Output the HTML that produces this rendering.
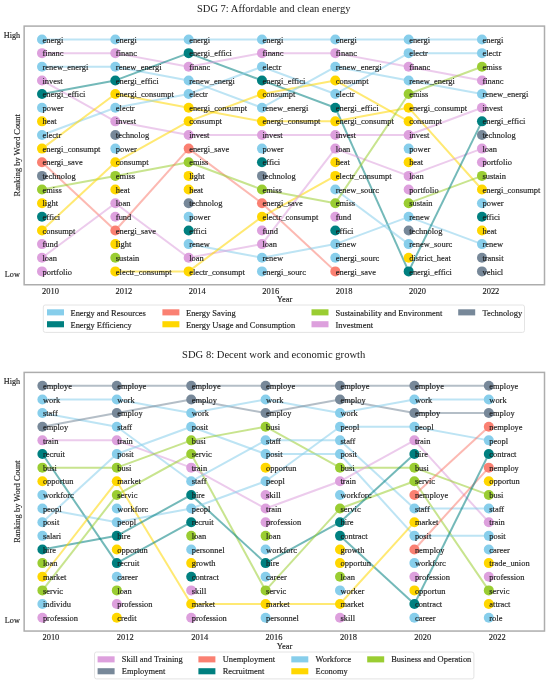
<!DOCTYPE html>
<html><head><meta charset="utf-8"><title>SDG ranking charts</title>
<style>
html,body{margin:0;padding:0;background:#fff;}
body{width:550px;height:683px;overflow:hidden;}
svg{display:block;filter:blur(0.25px);font-family:"Liberation Serif", serif;}
text{fill:#1a1a1a;stroke:#1a1a1a;stroke-width:0.14px;}
</style></head>
<body>
<svg width="550" height="683" viewBox="0 0 550 683">
<rect x="0" y="0" width="550" height="683" fill="#fff"/>
<text x="273.7" y="11.60" text-anchor="middle" font-size="10" style="stroke-width:0" textLength="153.5" lengthAdjust="spacingAndGlyphs">SDG 7: Affordable and clean energy</text>
<rect x="24.15" y="26.10" width="520.35" height="258.65" fill="none" stroke="#adadad" stroke-width="1.5"/>
<line x1="42.00" y1="39.50" x2="115.33" y2="39.50" stroke="#87CEEB" stroke-opacity="0.55" stroke-width="2.0"/>
<line x1="42.00" y1="53.14" x2="115.33" y2="53.14" stroke="#DDA0DD" stroke-opacity="0.55" stroke-width="2.0"/>
<line x1="42.00" y1="66.78" x2="115.33" y2="66.78" stroke="#87CEEB" stroke-opacity="0.55" stroke-width="2.0"/>
<line x1="42.00" y1="80.42" x2="115.33" y2="121.34" stroke="#DDA0DD" stroke-opacity="0.55" stroke-width="2.0"/>
<line x1="42.00" y1="94.06" x2="115.33" y2="80.42" stroke="#008080" stroke-opacity="0.55" stroke-width="2.0"/>
<line x1="42.00" y1="134.98" x2="115.33" y2="107.70" stroke="#87CEEB" stroke-opacity="0.55" stroke-width="2.0"/>
<line x1="42.00" y1="148.62" x2="115.33" y2="94.06" stroke="#FFD700" stroke-opacity="0.55" stroke-width="2.0"/>
<line x1="42.00" y1="162.26" x2="115.33" y2="230.46" stroke="#FA8072" stroke-opacity="0.55" stroke-width="2.0"/>
<line x1="42.00" y1="189.54" x2="115.33" y2="175.90" stroke="#9ACD32" stroke-opacity="0.55" stroke-width="2.0"/>
<line x1="42.00" y1="230.46" x2="115.33" y2="162.26" stroke="#FFD700" stroke-opacity="0.55" stroke-width="2.0"/>
<line x1="42.00" y1="257.74" x2="115.33" y2="203.18" stroke="#DDA0DD" stroke-opacity="0.55" stroke-width="2.0"/>
<line x1="115.33" y1="39.50" x2="188.66" y2="39.50" stroke="#87CEEB" stroke-opacity="0.55" stroke-width="2.0"/>
<line x1="115.33" y1="53.14" x2="188.66" y2="66.78" stroke="#DDA0DD" stroke-opacity="0.55" stroke-width="2.0"/>
<line x1="115.33" y1="66.78" x2="188.66" y2="80.42" stroke="#87CEEB" stroke-opacity="0.55" stroke-width="2.0"/>
<line x1="115.33" y1="80.42" x2="188.66" y2="53.14" stroke="#008080" stroke-opacity="0.55" stroke-width="2.0"/>
<line x1="115.33" y1="94.06" x2="188.66" y2="107.70" stroke="#FFD700" stroke-opacity="0.55" stroke-width="2.0"/>
<line x1="115.33" y1="107.70" x2="188.66" y2="94.06" stroke="#87CEEB" stroke-opacity="0.55" stroke-width="2.0"/>
<line x1="115.33" y1="121.34" x2="188.66" y2="134.98" stroke="#DDA0DD" stroke-opacity="0.55" stroke-width="2.0"/>
<line x1="115.33" y1="162.26" x2="188.66" y2="121.34" stroke="#FFD700" stroke-opacity="0.55" stroke-width="2.0"/>
<line x1="115.33" y1="175.90" x2="188.66" y2="162.26" stroke="#9ACD32" stroke-opacity="0.55" stroke-width="2.0"/>
<line x1="115.33" y1="203.18" x2="188.66" y2="257.74" stroke="#DDA0DD" stroke-opacity="0.55" stroke-width="2.0"/>
<line x1="115.33" y1="230.46" x2="188.66" y2="148.62" stroke="#FA8072" stroke-opacity="0.55" stroke-width="2.0"/>
<line x1="115.33" y1="271.38" x2="188.66" y2="271.38" stroke="#FFD700" stroke-opacity="0.55" stroke-width="2.0"/>
<line x1="188.66" y1="39.50" x2="261.99" y2="39.50" stroke="#87CEEB" stroke-opacity="0.55" stroke-width="2.0"/>
<line x1="188.66" y1="53.14" x2="261.99" y2="80.42" stroke="#008080" stroke-opacity="0.55" stroke-width="2.0"/>
<line x1="188.66" y1="66.78" x2="261.99" y2="53.14" stroke="#DDA0DD" stroke-opacity="0.55" stroke-width="2.0"/>
<line x1="188.66" y1="80.42" x2="261.99" y2="107.70" stroke="#87CEEB" stroke-opacity="0.55" stroke-width="2.0"/>
<line x1="188.66" y1="94.06" x2="261.99" y2="66.78" stroke="#87CEEB" stroke-opacity="0.55" stroke-width="2.0"/>
<line x1="188.66" y1="107.70" x2="261.99" y2="121.34" stroke="#FFD700" stroke-opacity="0.55" stroke-width="2.0"/>
<line x1="188.66" y1="121.34" x2="261.99" y2="94.06" stroke="#FFD700" stroke-opacity="0.55" stroke-width="2.0"/>
<line x1="188.66" y1="134.98" x2="261.99" y2="134.98" stroke="#DDA0DD" stroke-opacity="0.55" stroke-width="2.0"/>
<line x1="188.66" y1="148.62" x2="261.99" y2="203.18" stroke="#FA8072" stroke-opacity="0.55" stroke-width="2.0"/>
<line x1="188.66" y1="162.26" x2="261.99" y2="189.54" stroke="#9ACD32" stroke-opacity="0.55" stroke-width="2.0"/>
<line x1="188.66" y1="244.10" x2="261.99" y2="257.74" stroke="#87CEEB" stroke-opacity="0.55" stroke-width="2.0"/>
<line x1="188.66" y1="257.74" x2="261.99" y2="244.10" stroke="#DDA0DD" stroke-opacity="0.55" stroke-width="2.0"/>
<line x1="188.66" y1="271.38" x2="261.99" y2="216.82" stroke="#FFD700" stroke-opacity="0.55" stroke-width="2.0"/>
<line x1="261.99" y1="39.50" x2="335.32" y2="39.50" stroke="#87CEEB" stroke-opacity="0.55" stroke-width="2.0"/>
<line x1="261.99" y1="53.14" x2="335.32" y2="53.14" stroke="#DDA0DD" stroke-opacity="0.55" stroke-width="2.0"/>
<line x1="261.99" y1="66.78" x2="335.32" y2="94.06" stroke="#87CEEB" stroke-opacity="0.55" stroke-width="2.0"/>
<line x1="261.99" y1="80.42" x2="335.32" y2="107.70" stroke="#008080" stroke-opacity="0.55" stroke-width="2.0"/>
<line x1="261.99" y1="94.06" x2="335.32" y2="80.42" stroke="#FFD700" stroke-opacity="0.55" stroke-width="2.0"/>
<line x1="261.99" y1="107.70" x2="335.32" y2="66.78" stroke="#87CEEB" stroke-opacity="0.55" stroke-width="2.0"/>
<line x1="261.99" y1="121.34" x2="335.32" y2="121.34" stroke="#FFD700" stroke-opacity="0.55" stroke-width="2.0"/>
<line x1="261.99" y1="134.98" x2="335.32" y2="134.98" stroke="#DDA0DD" stroke-opacity="0.55" stroke-width="2.0"/>
<line x1="261.99" y1="189.54" x2="335.32" y2="203.18" stroke="#9ACD32" stroke-opacity="0.55" stroke-width="2.0"/>
<line x1="261.99" y1="203.18" x2="335.32" y2="271.38" stroke="#FA8072" stroke-opacity="0.55" stroke-width="2.0"/>
<line x1="261.99" y1="216.82" x2="335.32" y2="175.90" stroke="#FFD700" stroke-opacity="0.55" stroke-width="2.0"/>
<line x1="261.99" y1="244.10" x2="335.32" y2="148.62" stroke="#DDA0DD" stroke-opacity="0.55" stroke-width="2.0"/>
<line x1="261.99" y1="257.74" x2="335.32" y2="244.10" stroke="#87CEEB" stroke-opacity="0.55" stroke-width="2.0"/>
<line x1="335.32" y1="39.50" x2="408.65" y2="39.50" stroke="#87CEEB" stroke-opacity="0.55" stroke-width="2.0"/>
<line x1="335.32" y1="53.14" x2="408.65" y2="66.78" stroke="#DDA0DD" stroke-opacity="0.55" stroke-width="2.0"/>
<line x1="335.32" y1="66.78" x2="408.65" y2="80.42" stroke="#87CEEB" stroke-opacity="0.55" stroke-width="2.0"/>
<line x1="335.32" y1="80.42" x2="408.65" y2="121.34" stroke="#FFD700" stroke-opacity="0.55" stroke-width="2.0"/>
<line x1="335.32" y1="94.06" x2="408.65" y2="53.14" stroke="#87CEEB" stroke-opacity="0.55" stroke-width="2.0"/>
<line x1="335.32" y1="107.70" x2="408.65" y2="271.38" stroke="#008080" stroke-opacity="0.55" stroke-width="2.0"/>
<line x1="335.32" y1="121.34" x2="408.65" y2="107.70" stroke="#FFD700" stroke-opacity="0.55" stroke-width="2.0"/>
<line x1="335.32" y1="134.98" x2="408.65" y2="134.98" stroke="#DDA0DD" stroke-opacity="0.55" stroke-width="2.0"/>
<line x1="335.32" y1="148.62" x2="408.65" y2="175.90" stroke="#DDA0DD" stroke-opacity="0.55" stroke-width="2.0"/>
<line x1="335.32" y1="189.54" x2="408.65" y2="244.10" stroke="#87CEEB" stroke-opacity="0.55" stroke-width="2.0"/>
<line x1="335.32" y1="203.18" x2="408.65" y2="94.06" stroke="#9ACD32" stroke-opacity="0.55" stroke-width="2.0"/>
<line x1="335.32" y1="244.10" x2="408.65" y2="216.82" stroke="#87CEEB" stroke-opacity="0.55" stroke-width="2.0"/>
<line x1="408.65" y1="39.50" x2="481.98" y2="39.50" stroke="#87CEEB" stroke-opacity="0.55" stroke-width="2.0"/>
<line x1="408.65" y1="53.14" x2="481.98" y2="53.14" stroke="#87CEEB" stroke-opacity="0.55" stroke-width="2.0"/>
<line x1="408.65" y1="66.78" x2="481.98" y2="80.42" stroke="#DDA0DD" stroke-opacity="0.55" stroke-width="2.0"/>
<line x1="408.65" y1="80.42" x2="481.98" y2="94.06" stroke="#87CEEB" stroke-opacity="0.55" stroke-width="2.0"/>
<line x1="408.65" y1="94.06" x2="481.98" y2="66.78" stroke="#9ACD32" stroke-opacity="0.55" stroke-width="2.0"/>
<line x1="408.65" y1="107.70" x2="481.98" y2="189.54" stroke="#FFD700" stroke-opacity="0.55" stroke-width="2.0"/>
<line x1="408.65" y1="134.98" x2="481.98" y2="107.70" stroke="#DDA0DD" stroke-opacity="0.55" stroke-width="2.0"/>
<line x1="408.65" y1="175.90" x2="481.98" y2="148.62" stroke="#DDA0DD" stroke-opacity="0.55" stroke-width="2.0"/>
<line x1="408.65" y1="203.18" x2="481.98" y2="175.90" stroke="#9ACD32" stroke-opacity="0.55" stroke-width="2.0"/>
<line x1="408.65" y1="216.82" x2="481.98" y2="244.10" stroke="#87CEEB" stroke-opacity="0.55" stroke-width="2.0"/>
<line x1="408.65" y1="271.38" x2="481.98" y2="121.34" stroke="#008080" stroke-opacity="0.55" stroke-width="2.0"/>
<circle cx="42.00" cy="39.50" r="5.0" fill="#87CEEB"/>
<circle cx="42.00" cy="53.14" r="5.0" fill="#DDA0DD"/>
<circle cx="42.00" cy="66.78" r="5.0" fill="#87CEEB"/>
<circle cx="42.00" cy="80.42" r="5.0" fill="#DDA0DD"/>
<circle cx="42.00" cy="94.06" r="5.0" fill="#008080"/>
<circle cx="42.00" cy="107.70" r="5.0" fill="#87CEEB"/>
<circle cx="42.00" cy="121.34" r="5.0" fill="#FFD700"/>
<circle cx="42.00" cy="134.98" r="5.0" fill="#87CEEB"/>
<circle cx="42.00" cy="148.62" r="5.0" fill="#FFD700"/>
<circle cx="42.00" cy="162.26" r="5.0" fill="#FA8072"/>
<circle cx="42.00" cy="175.90" r="5.0" fill="#778899"/>
<circle cx="42.00" cy="189.54" r="5.0" fill="#9ACD32"/>
<circle cx="42.00" cy="203.18" r="5.0" fill="#FFD700"/>
<circle cx="42.00" cy="216.82" r="5.0" fill="#008080"/>
<circle cx="42.00" cy="230.46" r="5.0" fill="#FFD700"/>
<circle cx="42.00" cy="244.10" r="5.0" fill="#DDA0DD"/>
<circle cx="42.00" cy="257.74" r="5.0" fill="#DDA0DD"/>
<circle cx="42.00" cy="271.38" r="5.0" fill="#DDA0DD"/>
<circle cx="115.33" cy="39.50" r="5.0" fill="#87CEEB"/>
<circle cx="115.33" cy="53.14" r="5.0" fill="#DDA0DD"/>
<circle cx="115.33" cy="66.78" r="5.0" fill="#87CEEB"/>
<circle cx="115.33" cy="80.42" r="5.0" fill="#008080"/>
<circle cx="115.33" cy="94.06" r="5.0" fill="#FFD700"/>
<circle cx="115.33" cy="107.70" r="5.0" fill="#87CEEB"/>
<circle cx="115.33" cy="121.34" r="5.0" fill="#DDA0DD"/>
<circle cx="115.33" cy="134.98" r="5.0" fill="#778899"/>
<circle cx="115.33" cy="148.62" r="5.0" fill="#87CEEB"/>
<circle cx="115.33" cy="162.26" r="5.0" fill="#FFD700"/>
<circle cx="115.33" cy="175.90" r="5.0" fill="#9ACD32"/>
<circle cx="115.33" cy="189.54" r="5.0" fill="#FFD700"/>
<circle cx="115.33" cy="203.18" r="5.0" fill="#DDA0DD"/>
<circle cx="115.33" cy="216.82" r="5.0" fill="#DDA0DD"/>
<circle cx="115.33" cy="230.46" r="5.0" fill="#FA8072"/>
<circle cx="115.33" cy="244.10" r="5.0" fill="#FFD700"/>
<circle cx="115.33" cy="257.74" r="5.0" fill="#9ACD32"/>
<circle cx="115.33" cy="271.38" r="5.0" fill="#FFD700"/>
<circle cx="188.66" cy="39.50" r="5.0" fill="#87CEEB"/>
<circle cx="188.66" cy="53.14" r="5.0" fill="#008080"/>
<circle cx="188.66" cy="66.78" r="5.0" fill="#DDA0DD"/>
<circle cx="188.66" cy="80.42" r="5.0" fill="#87CEEB"/>
<circle cx="188.66" cy="94.06" r="5.0" fill="#87CEEB"/>
<circle cx="188.66" cy="107.70" r="5.0" fill="#FFD700"/>
<circle cx="188.66" cy="121.34" r="5.0" fill="#FFD700"/>
<circle cx="188.66" cy="134.98" r="5.0" fill="#DDA0DD"/>
<circle cx="188.66" cy="148.62" r="5.0" fill="#FA8072"/>
<circle cx="188.66" cy="162.26" r="5.0" fill="#9ACD32"/>
<circle cx="188.66" cy="175.90" r="5.0" fill="#FFD700"/>
<circle cx="188.66" cy="189.54" r="5.0" fill="#FFD700"/>
<circle cx="188.66" cy="203.18" r="5.0" fill="#778899"/>
<circle cx="188.66" cy="216.82" r="5.0" fill="#87CEEB"/>
<circle cx="188.66" cy="230.46" r="5.0" fill="#008080"/>
<circle cx="188.66" cy="244.10" r="5.0" fill="#87CEEB"/>
<circle cx="188.66" cy="257.74" r="5.0" fill="#DDA0DD"/>
<circle cx="188.66" cy="271.38" r="5.0" fill="#FFD700"/>
<circle cx="261.99" cy="39.50" r="5.0" fill="#87CEEB"/>
<circle cx="261.99" cy="53.14" r="5.0" fill="#DDA0DD"/>
<circle cx="261.99" cy="66.78" r="5.0" fill="#87CEEB"/>
<circle cx="261.99" cy="80.42" r="5.0" fill="#008080"/>
<circle cx="261.99" cy="94.06" r="5.0" fill="#FFD700"/>
<circle cx="261.99" cy="107.70" r="5.0" fill="#87CEEB"/>
<circle cx="261.99" cy="121.34" r="5.0" fill="#FFD700"/>
<circle cx="261.99" cy="134.98" r="5.0" fill="#DDA0DD"/>
<circle cx="261.99" cy="148.62" r="5.0" fill="#87CEEB"/>
<circle cx="261.99" cy="162.26" r="5.0" fill="#008080"/>
<circle cx="261.99" cy="175.90" r="5.0" fill="#778899"/>
<circle cx="261.99" cy="189.54" r="5.0" fill="#9ACD32"/>
<circle cx="261.99" cy="203.18" r="5.0" fill="#FA8072"/>
<circle cx="261.99" cy="216.82" r="5.0" fill="#FFD700"/>
<circle cx="261.99" cy="230.46" r="5.0" fill="#DDA0DD"/>
<circle cx="261.99" cy="244.10" r="5.0" fill="#DDA0DD"/>
<circle cx="261.99" cy="257.74" r="5.0" fill="#87CEEB"/>
<circle cx="261.99" cy="271.38" r="5.0" fill="#87CEEB"/>
<circle cx="335.32" cy="39.50" r="5.0" fill="#87CEEB"/>
<circle cx="335.32" cy="53.14" r="5.0" fill="#DDA0DD"/>
<circle cx="335.32" cy="66.78" r="5.0" fill="#87CEEB"/>
<circle cx="335.32" cy="80.42" r="5.0" fill="#FFD700"/>
<circle cx="335.32" cy="94.06" r="5.0" fill="#87CEEB"/>
<circle cx="335.32" cy="107.70" r="5.0" fill="#008080"/>
<circle cx="335.32" cy="121.34" r="5.0" fill="#FFD700"/>
<circle cx="335.32" cy="134.98" r="5.0" fill="#DDA0DD"/>
<circle cx="335.32" cy="148.62" r="5.0" fill="#DDA0DD"/>
<circle cx="335.32" cy="162.26" r="5.0" fill="#FFD700"/>
<circle cx="335.32" cy="175.90" r="5.0" fill="#FFD700"/>
<circle cx="335.32" cy="189.54" r="5.0" fill="#87CEEB"/>
<circle cx="335.32" cy="203.18" r="5.0" fill="#9ACD32"/>
<circle cx="335.32" cy="216.82" r="5.0" fill="#DDA0DD"/>
<circle cx="335.32" cy="230.46" r="5.0" fill="#008080"/>
<circle cx="335.32" cy="244.10" r="5.0" fill="#87CEEB"/>
<circle cx="335.32" cy="257.74" r="5.0" fill="#87CEEB"/>
<circle cx="335.32" cy="271.38" r="5.0" fill="#FA8072"/>
<circle cx="408.65" cy="39.50" r="5.0" fill="#87CEEB"/>
<circle cx="408.65" cy="53.14" r="5.0" fill="#87CEEB"/>
<circle cx="408.65" cy="66.78" r="5.0" fill="#DDA0DD"/>
<circle cx="408.65" cy="80.42" r="5.0" fill="#87CEEB"/>
<circle cx="408.65" cy="94.06" r="5.0" fill="#9ACD32"/>
<circle cx="408.65" cy="107.70" r="5.0" fill="#FFD700"/>
<circle cx="408.65" cy="121.34" r="5.0" fill="#FFD700"/>
<circle cx="408.65" cy="134.98" r="5.0" fill="#DDA0DD"/>
<circle cx="408.65" cy="148.62" r="5.0" fill="#87CEEB"/>
<circle cx="408.65" cy="162.26" r="5.0" fill="#FFD700"/>
<circle cx="408.65" cy="175.90" r="5.0" fill="#DDA0DD"/>
<circle cx="408.65" cy="189.54" r="5.0" fill="#DDA0DD"/>
<circle cx="408.65" cy="203.18" r="5.0" fill="#9ACD32"/>
<circle cx="408.65" cy="216.82" r="5.0" fill="#87CEEB"/>
<circle cx="408.65" cy="230.46" r="5.0" fill="#778899"/>
<circle cx="408.65" cy="244.10" r="5.0" fill="#87CEEB"/>
<circle cx="408.65" cy="257.74" r="5.0" fill="#FFD700"/>
<circle cx="408.65" cy="271.38" r="5.0" fill="#008080"/>
<circle cx="481.98" cy="39.50" r="5.0" fill="#87CEEB"/>
<circle cx="481.98" cy="53.14" r="5.0" fill="#87CEEB"/>
<circle cx="481.98" cy="66.78" r="5.0" fill="#9ACD32"/>
<circle cx="481.98" cy="80.42" r="5.0" fill="#DDA0DD"/>
<circle cx="481.98" cy="94.06" r="5.0" fill="#87CEEB"/>
<circle cx="481.98" cy="107.70" r="5.0" fill="#DDA0DD"/>
<circle cx="481.98" cy="121.34" r="5.0" fill="#008080"/>
<circle cx="481.98" cy="134.98" r="5.0" fill="#778899"/>
<circle cx="481.98" cy="148.62" r="5.0" fill="#DDA0DD"/>
<circle cx="481.98" cy="162.26" r="5.0" fill="#DDA0DD"/>
<circle cx="481.98" cy="175.90" r="5.0" fill="#9ACD32"/>
<circle cx="481.98" cy="189.54" r="5.0" fill="#FFD700"/>
<circle cx="481.98" cy="203.18" r="5.0" fill="#87CEEB"/>
<circle cx="481.98" cy="216.82" r="5.0" fill="#008080"/>
<circle cx="481.98" cy="230.46" r="5.0" fill="#FFD700"/>
<circle cx="481.98" cy="244.10" r="5.0" fill="#87CEEB"/>
<circle cx="481.98" cy="257.74" r="5.0" fill="#778899"/>
<circle cx="481.98" cy="271.38" r="5.0" fill="#778899"/>
<text x="42.50" y="42.65" font-size="8.45">energi</text>
<text x="42.50" y="56.29" font-size="8.45">financ</text>
<text x="42.50" y="69.93" font-size="8.45">renew_energi</text>
<text x="42.50" y="83.57" font-size="8.45">invest</text>
<text x="42.50" y="97.21" font-size="8.45">energi_effici</text>
<text x="42.50" y="110.85" font-size="8.45">power</text>
<text x="42.50" y="124.49" font-size="8.45">heat</text>
<text x="42.50" y="138.13" font-size="8.45">electr</text>
<text x="42.50" y="151.77" font-size="8.45">energi_consumpt</text>
<text x="42.50" y="165.41" font-size="8.45">energi_save</text>
<text x="42.50" y="179.05" font-size="8.45">technolog</text>
<text x="42.50" y="192.69" font-size="8.45">emiss</text>
<text x="42.50" y="206.33" font-size="8.45">light</text>
<text x="42.50" y="219.97" font-size="8.45">effici</text>
<text x="42.50" y="233.61" font-size="8.45">consumpt</text>
<text x="42.50" y="247.25" font-size="8.45">fund</text>
<text x="42.50" y="260.89" font-size="8.45">loan</text>
<text x="42.50" y="274.53" font-size="8.45">portfolio</text>
<text x="115.83" y="42.65" font-size="8.45">energi</text>
<text x="115.83" y="56.29" font-size="8.45">financ</text>
<text x="115.83" y="69.93" font-size="8.45">renew_energi</text>
<text x="115.83" y="83.57" font-size="8.45">energi_effici</text>
<text x="115.83" y="97.21" font-size="8.45">energi_consumpt</text>
<text x="115.83" y="110.85" font-size="8.45">electr</text>
<text x="115.83" y="124.49" font-size="8.45">invest</text>
<text x="115.83" y="138.13" font-size="8.45">technolog</text>
<text x="115.83" y="151.77" font-size="8.45">power</text>
<text x="115.83" y="165.41" font-size="8.45">consumpt</text>
<text x="115.83" y="179.05" font-size="8.45">emiss</text>
<text x="115.83" y="192.69" font-size="8.45">heat</text>
<text x="115.83" y="206.33" font-size="8.45">loan</text>
<text x="115.83" y="219.97" font-size="8.45">fund</text>
<text x="115.83" y="233.61" font-size="8.45">energi_save</text>
<text x="115.83" y="247.25" font-size="8.45">light</text>
<text x="115.83" y="260.89" font-size="8.45">sustain</text>
<text x="115.83" y="274.53" font-size="8.45">electr_consumpt</text>
<text x="189.16" y="42.65" font-size="8.45">energi</text>
<text x="189.16" y="56.29" font-size="8.45">energi_effici</text>
<text x="189.16" y="69.93" font-size="8.45">financ</text>
<text x="189.16" y="83.57" font-size="8.45">renew_energi</text>
<text x="189.16" y="97.21" font-size="8.45">electr</text>
<text x="189.16" y="110.85" font-size="8.45">energi_consumpt</text>
<text x="189.16" y="124.49" font-size="8.45">consumpt</text>
<text x="189.16" y="138.13" font-size="8.45">invest</text>
<text x="189.16" y="151.77" font-size="8.45">energi_save</text>
<text x="189.16" y="165.41" font-size="8.45">emiss</text>
<text x="189.16" y="179.05" font-size="8.45">light</text>
<text x="189.16" y="192.69" font-size="8.45">heat</text>
<text x="189.16" y="206.33" font-size="8.45">technolog</text>
<text x="189.16" y="219.97" font-size="8.45">power</text>
<text x="189.16" y="233.61" font-size="8.45">effici</text>
<text x="189.16" y="247.25" font-size="8.45">renew</text>
<text x="189.16" y="260.89" font-size="8.45">loan</text>
<text x="189.16" y="274.53" font-size="8.45">electr_consumpt</text>
<text x="262.49" y="42.65" font-size="8.45">energi</text>
<text x="262.49" y="56.29" font-size="8.45">financ</text>
<text x="262.49" y="69.93" font-size="8.45">electr</text>
<text x="262.49" y="83.57" font-size="8.45">energi_effici</text>
<text x="262.49" y="97.21" font-size="8.45">consumpt</text>
<text x="262.49" y="110.85" font-size="8.45">renew_energi</text>
<text x="262.49" y="124.49" font-size="8.45">energi_consumpt</text>
<text x="262.49" y="138.13" font-size="8.45">invest</text>
<text x="262.49" y="151.77" font-size="8.45">power</text>
<text x="262.49" y="165.41" font-size="8.45">effici</text>
<text x="262.49" y="179.05" font-size="8.45">technolog</text>
<text x="262.49" y="192.69" font-size="8.45">emiss</text>
<text x="262.49" y="206.33" font-size="8.45">energi_save</text>
<text x="262.49" y="219.97" font-size="8.45">electr_consumpt</text>
<text x="262.49" y="233.61" font-size="8.45">fund</text>
<text x="262.49" y="247.25" font-size="8.45">loan</text>
<text x="262.49" y="260.89" font-size="8.45">renew</text>
<text x="262.49" y="274.53" font-size="8.45">energi_sourc</text>
<text x="335.82" y="42.65" font-size="8.45">energi</text>
<text x="335.82" y="56.29" font-size="8.45">financ</text>
<text x="335.82" y="69.93" font-size="8.45">renew_energi</text>
<text x="335.82" y="83.57" font-size="8.45">consumpt</text>
<text x="335.82" y="97.21" font-size="8.45">electr</text>
<text x="335.82" y="110.85" font-size="8.45">energi_effici</text>
<text x="335.82" y="124.49" font-size="8.45">energi_consumpt</text>
<text x="335.82" y="138.13" font-size="8.45">invest</text>
<text x="335.82" y="151.77" font-size="8.45">loan</text>
<text x="335.82" y="165.41" font-size="8.45">heat</text>
<text x="335.82" y="179.05" font-size="8.45">electr_consumpt</text>
<text x="335.82" y="192.69" font-size="8.45">renew_sourc</text>
<text x="335.82" y="206.33" font-size="8.45">emiss</text>
<text x="335.82" y="219.97" font-size="8.45">fund</text>
<text x="335.82" y="233.61" font-size="8.45">effici</text>
<text x="335.82" y="247.25" font-size="8.45">renew</text>
<text x="335.82" y="260.89" font-size="8.45">energi_sourc</text>
<text x="335.82" y="274.53" font-size="8.45">energi_save</text>
<text x="409.15" y="42.65" font-size="8.45">energi</text>
<text x="409.15" y="56.29" font-size="8.45">electr</text>
<text x="409.15" y="69.93" font-size="8.45">financ</text>
<text x="409.15" y="83.57" font-size="8.45">renew_energi</text>
<text x="409.15" y="97.21" font-size="8.45">emiss</text>
<text x="409.15" y="110.85" font-size="8.45">energi_consumpt</text>
<text x="409.15" y="124.49" font-size="8.45">consumpt</text>
<text x="409.15" y="138.13" font-size="8.45">invest</text>
<text x="409.15" y="151.77" font-size="8.45">power</text>
<text x="409.15" y="165.41" font-size="8.45">heat</text>
<text x="409.15" y="179.05" font-size="8.45">loan</text>
<text x="409.15" y="192.69" font-size="8.45">portfolio</text>
<text x="409.15" y="206.33" font-size="8.45">sustain</text>
<text x="409.15" y="219.97" font-size="8.45">renew</text>
<text x="409.15" y="233.61" font-size="8.45">technolog</text>
<text x="409.15" y="247.25" font-size="8.45">renew_sourc</text>
<text x="409.15" y="260.89" font-size="8.45">district_heat</text>
<text x="409.15" y="274.53" font-size="8.45">energi_effici</text>
<text x="482.48" y="42.65" font-size="8.45">energi</text>
<text x="482.48" y="56.29" font-size="8.45">electr</text>
<text x="482.48" y="69.93" font-size="8.45">emiss</text>
<text x="482.48" y="83.57" font-size="8.45">financ</text>
<text x="482.48" y="97.21" font-size="8.45">renew_energi</text>
<text x="482.48" y="110.85" font-size="8.45">invest</text>
<text x="482.48" y="124.49" font-size="8.45">energi_effici</text>
<text x="482.48" y="138.13" font-size="8.45">technolog</text>
<text x="482.48" y="151.77" font-size="8.45">loan</text>
<text x="482.48" y="165.41" font-size="8.45">portfolio</text>
<text x="482.48" y="179.05" font-size="8.45">sustain</text>
<text x="482.48" y="192.69" font-size="8.45">energi_consumpt</text>
<text x="482.48" y="206.33" font-size="8.45">power</text>
<text x="482.48" y="219.97" font-size="8.45">effici</text>
<text x="482.48" y="233.61" font-size="8.45">heat</text>
<text x="482.48" y="247.25" font-size="8.45">renew</text>
<text x="482.48" y="260.89" font-size="8.45">transit</text>
<text x="482.48" y="274.53" font-size="8.45">vehicl</text>
<text x="50.50" y="293.50" text-anchor="middle" font-size="8.45">2010</text>
<text x="123.90" y="293.50" text-anchor="middle" font-size="8.45">2012</text>
<text x="197.30" y="293.50" text-anchor="middle" font-size="8.45">2014</text>
<text x="270.70" y="293.50" text-anchor="middle" font-size="8.45">2016</text>
<text x="344.10" y="293.50" text-anchor="middle" font-size="8.45">2018</text>
<text x="417.50" y="293.50" text-anchor="middle" font-size="8.45">2020</text>
<text x="490.90" y="293.50" text-anchor="middle" font-size="8.45">2022</text>
<text x="284.5" y="302.20" text-anchor="middle" font-size="8.45">Year</text>
<text x="20.1" y="38.00" text-anchor="end" font-size="8.2">High</text>
<text x="19.8" y="277.00" text-anchor="end" font-size="8.2">Low</text>
<text transform="translate(19.9 155.30) rotate(-90)" x="0" y="0" text-anchor="middle" font-size="8.45">Ranking by Word Count</text>
<rect x="43.3" y="305.00" width="481.20" height="27.40" rx="2" fill="#fff" stroke="#e4e4e4" stroke-width="1"/>
<rect x="47.0" y="309.30" width="17" height="6.1" fill="#87CEEB"/>
<text x="70.50" y="315.80" font-size="8.45">Energy and Resources</text>
<rect x="47.0" y="321.20" width="17" height="6.1" fill="#008080"/>
<text x="70.50" y="327.70" font-size="8.45">Energy Efficiency</text>
<rect x="162.4" y="309.30" width="17" height="6.1" fill="#FA8072"/>
<text x="186.00" y="315.80" font-size="8.45">Energy Saving</text>
<rect x="162.4" y="321.20" width="17" height="6.1" fill="#FFD700"/>
<text x="186.00" y="327.70" font-size="8.45">Energy Usage and Consumption</text>
<rect x="311.5" y="309.30" width="17" height="6.1" fill="#9ACD32"/>
<text x="335.50" y="315.80" font-size="8.45">Sustainability and Environment</text>
<rect x="311.5" y="321.20" width="17" height="6.1" fill="#DDA0DD"/>
<text x="335.50" y="327.70" font-size="8.45">Investment</text>
<rect x="458.2" y="309.30" width="17" height="6.1" fill="#778899"/>
<text x="482.40" y="315.80" font-size="8.45">Technology</text>
<text x="273.7" y="357.90" text-anchor="middle" font-size="10" style="stroke-width:0" textLength="183.2" lengthAdjust="spacingAndGlyphs">SDG 8: Decent work and economic growth</text>
<rect x="24.15" y="372.40" width="520.35" height="258.65" fill="none" stroke="#adadad" stroke-width="1.5"/>
<line x1="42.40" y1="385.80" x2="116.80" y2="385.80" stroke="#778899" stroke-opacity="0.55" stroke-width="2.0"/>
<line x1="42.40" y1="399.44" x2="116.80" y2="399.44" stroke="#87CEEB" stroke-opacity="0.55" stroke-width="2.0"/>
<line x1="42.40" y1="413.08" x2="116.80" y2="426.72" stroke="#87CEEB" stroke-opacity="0.55" stroke-width="2.0"/>
<line x1="42.40" y1="426.72" x2="116.80" y2="413.08" stroke="#778899" stroke-opacity="0.55" stroke-width="2.0"/>
<line x1="42.40" y1="440.36" x2="116.80" y2="440.36" stroke="#DDA0DD" stroke-opacity="0.55" stroke-width="2.0"/>
<line x1="42.40" y1="454.00" x2="116.80" y2="563.12" stroke="#008080" stroke-opacity="0.55" stroke-width="2.0"/>
<line x1="42.40" y1="467.64" x2="116.80" y2="467.64" stroke="#9ACD32" stroke-opacity="0.55" stroke-width="2.0"/>
<line x1="42.40" y1="508.56" x2="116.80" y2="522.20" stroke="#87CEEB" stroke-opacity="0.55" stroke-width="2.0"/>
<line x1="42.40" y1="522.20" x2="116.80" y2="454.00" stroke="#87CEEB" stroke-opacity="0.55" stroke-width="2.0"/>
<line x1="42.40" y1="549.48" x2="116.80" y2="535.84" stroke="#008080" stroke-opacity="0.55" stroke-width="2.0"/>
<line x1="42.40" y1="576.76" x2="116.80" y2="481.28" stroke="#FFD700" stroke-opacity="0.55" stroke-width="2.0"/>
<line x1="42.40" y1="590.40" x2="116.80" y2="494.92" stroke="#9ACD32" stroke-opacity="0.55" stroke-width="2.0"/>
<line x1="116.80" y1="385.80" x2="191.20" y2="385.80" stroke="#778899" stroke-opacity="0.55" stroke-width="2.0"/>
<line x1="116.80" y1="399.44" x2="191.20" y2="413.08" stroke="#87CEEB" stroke-opacity="0.55" stroke-width="2.0"/>
<line x1="116.80" y1="413.08" x2="191.20" y2="399.44" stroke="#778899" stroke-opacity="0.55" stroke-width="2.0"/>
<line x1="116.80" y1="426.72" x2="191.20" y2="481.28" stroke="#87CEEB" stroke-opacity="0.55" stroke-width="2.0"/>
<line x1="116.80" y1="440.36" x2="191.20" y2="467.64" stroke="#DDA0DD" stroke-opacity="0.55" stroke-width="2.0"/>
<line x1="116.80" y1="454.00" x2="191.20" y2="426.72" stroke="#87CEEB" stroke-opacity="0.55" stroke-width="2.0"/>
<line x1="116.80" y1="467.64" x2="191.20" y2="440.36" stroke="#9ACD32" stroke-opacity="0.55" stroke-width="2.0"/>
<line x1="116.80" y1="481.28" x2="191.20" y2="604.04" stroke="#FFD700" stroke-opacity="0.55" stroke-width="2.0"/>
<line x1="116.80" y1="494.92" x2="191.20" y2="454.00" stroke="#9ACD32" stroke-opacity="0.55" stroke-width="2.0"/>
<line x1="116.80" y1="522.20" x2="191.20" y2="508.56" stroke="#87CEEB" stroke-opacity="0.55" stroke-width="2.0"/>
<line x1="116.80" y1="535.84" x2="191.20" y2="494.92" stroke="#008080" stroke-opacity="0.55" stroke-width="2.0"/>
<line x1="116.80" y1="563.12" x2="191.20" y2="522.20" stroke="#008080" stroke-opacity="0.55" stroke-width="2.0"/>
<line x1="191.20" y1="385.80" x2="265.60" y2="385.80" stroke="#778899" stroke-opacity="0.55" stroke-width="2.0"/>
<line x1="191.20" y1="399.44" x2="265.60" y2="413.08" stroke="#778899" stroke-opacity="0.55" stroke-width="2.0"/>
<line x1="191.20" y1="413.08" x2="265.60" y2="399.44" stroke="#87CEEB" stroke-opacity="0.55" stroke-width="2.0"/>
<line x1="191.20" y1="426.72" x2="265.60" y2="454.00" stroke="#87CEEB" stroke-opacity="0.55" stroke-width="2.0"/>
<line x1="191.20" y1="440.36" x2="265.60" y2="426.72" stroke="#9ACD32" stroke-opacity="0.55" stroke-width="2.0"/>
<line x1="191.20" y1="454.00" x2="265.60" y2="590.40" stroke="#9ACD32" stroke-opacity="0.55" stroke-width="2.0"/>
<line x1="191.20" y1="467.64" x2="265.60" y2="508.56" stroke="#DDA0DD" stroke-opacity="0.55" stroke-width="2.0"/>
<line x1="191.20" y1="481.28" x2="265.60" y2="440.36" stroke="#87CEEB" stroke-opacity="0.55" stroke-width="2.0"/>
<line x1="191.20" y1="494.92" x2="265.60" y2="563.12" stroke="#008080" stroke-opacity="0.55" stroke-width="2.0"/>
<line x1="191.20" y1="508.56" x2="265.60" y2="481.28" stroke="#87CEEB" stroke-opacity="0.55" stroke-width="2.0"/>
<line x1="191.20" y1="604.04" x2="265.60" y2="604.04" stroke="#FFD700" stroke-opacity="0.55" stroke-width="2.0"/>
<line x1="265.60" y1="385.80" x2="340.00" y2="385.80" stroke="#778899" stroke-opacity="0.55" stroke-width="2.0"/>
<line x1="265.60" y1="399.44" x2="340.00" y2="413.08" stroke="#87CEEB" stroke-opacity="0.55" stroke-width="2.0"/>
<line x1="265.60" y1="413.08" x2="340.00" y2="399.44" stroke="#778899" stroke-opacity="0.55" stroke-width="2.0"/>
<line x1="265.60" y1="426.72" x2="340.00" y2="467.64" stroke="#9ACD32" stroke-opacity="0.55" stroke-width="2.0"/>
<line x1="265.60" y1="440.36" x2="340.00" y2="440.36" stroke="#87CEEB" stroke-opacity="0.55" stroke-width="2.0"/>
<line x1="265.60" y1="454.00" x2="340.00" y2="454.00" stroke="#87CEEB" stroke-opacity="0.55" stroke-width="2.0"/>
<line x1="265.60" y1="481.28" x2="340.00" y2="426.72" stroke="#87CEEB" stroke-opacity="0.55" stroke-width="2.0"/>
<line x1="265.60" y1="508.56" x2="340.00" y2="481.28" stroke="#DDA0DD" stroke-opacity="0.55" stroke-width="2.0"/>
<line x1="265.60" y1="563.12" x2="340.00" y2="522.20" stroke="#008080" stroke-opacity="0.55" stroke-width="2.0"/>
<line x1="265.60" y1="590.40" x2="340.00" y2="508.56" stroke="#9ACD32" stroke-opacity="0.55" stroke-width="2.0"/>
<line x1="265.60" y1="604.04" x2="340.00" y2="604.04" stroke="#FFD700" stroke-opacity="0.55" stroke-width="2.0"/>
<line x1="340.00" y1="385.80" x2="414.40" y2="385.80" stroke="#778899" stroke-opacity="0.55" stroke-width="2.0"/>
<line x1="340.00" y1="399.44" x2="414.40" y2="413.08" stroke="#778899" stroke-opacity="0.55" stroke-width="2.0"/>
<line x1="340.00" y1="413.08" x2="414.40" y2="399.44" stroke="#87CEEB" stroke-opacity="0.55" stroke-width="2.0"/>
<line x1="340.00" y1="426.72" x2="414.40" y2="426.72" stroke="#87CEEB" stroke-opacity="0.55" stroke-width="2.0"/>
<line x1="340.00" y1="440.36" x2="414.40" y2="508.56" stroke="#87CEEB" stroke-opacity="0.55" stroke-width="2.0"/>
<line x1="340.00" y1="454.00" x2="414.40" y2="535.84" stroke="#87CEEB" stroke-opacity="0.55" stroke-width="2.0"/>
<line x1="340.00" y1="467.64" x2="414.40" y2="467.64" stroke="#9ACD32" stroke-opacity="0.55" stroke-width="2.0"/>
<line x1="340.00" y1="481.28" x2="414.40" y2="440.36" stroke="#DDA0DD" stroke-opacity="0.55" stroke-width="2.0"/>
<line x1="340.00" y1="508.56" x2="414.40" y2="481.28" stroke="#9ACD32" stroke-opacity="0.55" stroke-width="2.0"/>
<line x1="340.00" y1="522.20" x2="414.40" y2="454.00" stroke="#008080" stroke-opacity="0.55" stroke-width="2.0"/>
<line x1="340.00" y1="535.84" x2="414.40" y2="604.04" stroke="#008080" stroke-opacity="0.55" stroke-width="2.0"/>
<line x1="340.00" y1="604.04" x2="414.40" y2="522.20" stroke="#FFD700" stroke-opacity="0.55" stroke-width="2.0"/>
<line x1="414.40" y1="385.80" x2="488.80" y2="385.80" stroke="#778899" stroke-opacity="0.55" stroke-width="2.0"/>
<line x1="414.40" y1="399.44" x2="488.80" y2="399.44" stroke="#87CEEB" stroke-opacity="0.55" stroke-width="2.0"/>
<line x1="414.40" y1="413.08" x2="488.80" y2="413.08" stroke="#778899" stroke-opacity="0.55" stroke-width="2.0"/>
<line x1="414.40" y1="426.72" x2="488.80" y2="440.36" stroke="#87CEEB" stroke-opacity="0.55" stroke-width="2.0"/>
<line x1="414.40" y1="440.36" x2="488.80" y2="522.20" stroke="#DDA0DD" stroke-opacity="0.55" stroke-width="2.0"/>
<line x1="414.40" y1="467.64" x2="488.80" y2="494.92" stroke="#9ACD32" stroke-opacity="0.55" stroke-width="2.0"/>
<line x1="414.40" y1="481.28" x2="488.80" y2="590.40" stroke="#9ACD32" stroke-opacity="0.55" stroke-width="2.0"/>
<line x1="414.40" y1="494.92" x2="488.80" y2="426.72" stroke="#FA8072" stroke-opacity="0.55" stroke-width="2.0"/>
<line x1="414.40" y1="508.56" x2="488.80" y2="508.56" stroke="#87CEEB" stroke-opacity="0.55" stroke-width="2.0"/>
<line x1="414.40" y1="535.84" x2="488.80" y2="535.84" stroke="#87CEEB" stroke-opacity="0.55" stroke-width="2.0"/>
<line x1="414.40" y1="549.48" x2="488.80" y2="467.64" stroke="#FA8072" stroke-opacity="0.55" stroke-width="2.0"/>
<line x1="414.40" y1="604.04" x2="488.80" y2="454.00" stroke="#008080" stroke-opacity="0.55" stroke-width="2.0"/>
<circle cx="42.40" cy="385.80" r="5.0" fill="#778899"/>
<circle cx="42.40" cy="399.44" r="5.0" fill="#87CEEB"/>
<circle cx="42.40" cy="413.08" r="5.0" fill="#87CEEB"/>
<circle cx="42.40" cy="426.72" r="5.0" fill="#778899"/>
<circle cx="42.40" cy="440.36" r="5.0" fill="#DDA0DD"/>
<circle cx="42.40" cy="454.00" r="5.0" fill="#008080"/>
<circle cx="42.40" cy="467.64" r="5.0" fill="#9ACD32"/>
<circle cx="42.40" cy="481.28" r="5.0" fill="#FFD700"/>
<circle cx="42.40" cy="494.92" r="5.0" fill="#87CEEB"/>
<circle cx="42.40" cy="508.56" r="5.0" fill="#87CEEB"/>
<circle cx="42.40" cy="522.20" r="5.0" fill="#87CEEB"/>
<circle cx="42.40" cy="535.84" r="5.0" fill="#87CEEB"/>
<circle cx="42.40" cy="549.48" r="5.0" fill="#008080"/>
<circle cx="42.40" cy="563.12" r="5.0" fill="#9ACD32"/>
<circle cx="42.40" cy="576.76" r="5.0" fill="#FFD700"/>
<circle cx="42.40" cy="590.40" r="5.0" fill="#9ACD32"/>
<circle cx="42.40" cy="604.04" r="5.0" fill="#87CEEB"/>
<circle cx="42.40" cy="617.68" r="5.0" fill="#DDA0DD"/>
<circle cx="116.80" cy="385.80" r="5.0" fill="#778899"/>
<circle cx="116.80" cy="399.44" r="5.0" fill="#87CEEB"/>
<circle cx="116.80" cy="413.08" r="5.0" fill="#778899"/>
<circle cx="116.80" cy="426.72" r="5.0" fill="#87CEEB"/>
<circle cx="116.80" cy="440.36" r="5.0" fill="#DDA0DD"/>
<circle cx="116.80" cy="454.00" r="5.0" fill="#87CEEB"/>
<circle cx="116.80" cy="467.64" r="5.0" fill="#9ACD32"/>
<circle cx="116.80" cy="481.28" r="5.0" fill="#FFD700"/>
<circle cx="116.80" cy="494.92" r="5.0" fill="#9ACD32"/>
<circle cx="116.80" cy="508.56" r="5.0" fill="#87CEEB"/>
<circle cx="116.80" cy="522.20" r="5.0" fill="#87CEEB"/>
<circle cx="116.80" cy="535.84" r="5.0" fill="#008080"/>
<circle cx="116.80" cy="549.48" r="5.0" fill="#FFD700"/>
<circle cx="116.80" cy="563.12" r="5.0" fill="#008080"/>
<circle cx="116.80" cy="576.76" r="5.0" fill="#87CEEB"/>
<circle cx="116.80" cy="590.40" r="5.0" fill="#9ACD32"/>
<circle cx="116.80" cy="604.04" r="5.0" fill="#DDA0DD"/>
<circle cx="116.80" cy="617.68" r="5.0" fill="#FFD700"/>
<circle cx="191.20" cy="385.80" r="5.0" fill="#778899"/>
<circle cx="191.20" cy="399.44" r="5.0" fill="#778899"/>
<circle cx="191.20" cy="413.08" r="5.0" fill="#87CEEB"/>
<circle cx="191.20" cy="426.72" r="5.0" fill="#87CEEB"/>
<circle cx="191.20" cy="440.36" r="5.0" fill="#9ACD32"/>
<circle cx="191.20" cy="454.00" r="5.0" fill="#9ACD32"/>
<circle cx="191.20" cy="467.64" r="5.0" fill="#DDA0DD"/>
<circle cx="191.20" cy="481.28" r="5.0" fill="#87CEEB"/>
<circle cx="191.20" cy="494.92" r="5.0" fill="#008080"/>
<circle cx="191.20" cy="508.56" r="5.0" fill="#87CEEB"/>
<circle cx="191.20" cy="522.20" r="5.0" fill="#008080"/>
<circle cx="191.20" cy="535.84" r="5.0" fill="#9ACD32"/>
<circle cx="191.20" cy="549.48" r="5.0" fill="#87CEEB"/>
<circle cx="191.20" cy="563.12" r="5.0" fill="#FFD700"/>
<circle cx="191.20" cy="576.76" r="5.0" fill="#008080"/>
<circle cx="191.20" cy="590.40" r="5.0" fill="#DDA0DD"/>
<circle cx="191.20" cy="604.04" r="5.0" fill="#FFD700"/>
<circle cx="191.20" cy="617.68" r="5.0" fill="#DDA0DD"/>
<circle cx="265.60" cy="385.80" r="5.0" fill="#778899"/>
<circle cx="265.60" cy="399.44" r="5.0" fill="#87CEEB"/>
<circle cx="265.60" cy="413.08" r="5.0" fill="#778899"/>
<circle cx="265.60" cy="426.72" r="5.0" fill="#9ACD32"/>
<circle cx="265.60" cy="440.36" r="5.0" fill="#87CEEB"/>
<circle cx="265.60" cy="454.00" r="5.0" fill="#87CEEB"/>
<circle cx="265.60" cy="467.64" r="5.0" fill="#FFD700"/>
<circle cx="265.60" cy="481.28" r="5.0" fill="#87CEEB"/>
<circle cx="265.60" cy="494.92" r="5.0" fill="#DDA0DD"/>
<circle cx="265.60" cy="508.56" r="5.0" fill="#DDA0DD"/>
<circle cx="265.60" cy="522.20" r="5.0" fill="#DDA0DD"/>
<circle cx="265.60" cy="535.84" r="5.0" fill="#9ACD32"/>
<circle cx="265.60" cy="549.48" r="5.0" fill="#87CEEB"/>
<circle cx="265.60" cy="563.12" r="5.0" fill="#008080"/>
<circle cx="265.60" cy="576.76" r="5.0" fill="#87CEEB"/>
<circle cx="265.60" cy="590.40" r="5.0" fill="#9ACD32"/>
<circle cx="265.60" cy="604.04" r="5.0" fill="#FFD700"/>
<circle cx="265.60" cy="617.68" r="5.0" fill="#87CEEB"/>
<circle cx="340.00" cy="385.80" r="5.0" fill="#778899"/>
<circle cx="340.00" cy="399.44" r="5.0" fill="#778899"/>
<circle cx="340.00" cy="413.08" r="5.0" fill="#87CEEB"/>
<circle cx="340.00" cy="426.72" r="5.0" fill="#87CEEB"/>
<circle cx="340.00" cy="440.36" r="5.0" fill="#87CEEB"/>
<circle cx="340.00" cy="454.00" r="5.0" fill="#87CEEB"/>
<circle cx="340.00" cy="467.64" r="5.0" fill="#9ACD32"/>
<circle cx="340.00" cy="481.28" r="5.0" fill="#DDA0DD"/>
<circle cx="340.00" cy="494.92" r="5.0" fill="#87CEEB"/>
<circle cx="340.00" cy="508.56" r="5.0" fill="#9ACD32"/>
<circle cx="340.00" cy="522.20" r="5.0" fill="#008080"/>
<circle cx="340.00" cy="535.84" r="5.0" fill="#008080"/>
<circle cx="340.00" cy="549.48" r="5.0" fill="#FFD700"/>
<circle cx="340.00" cy="563.12" r="5.0" fill="#FFD700"/>
<circle cx="340.00" cy="576.76" r="5.0" fill="#9ACD32"/>
<circle cx="340.00" cy="590.40" r="5.0" fill="#87CEEB"/>
<circle cx="340.00" cy="604.04" r="5.0" fill="#FFD700"/>
<circle cx="340.00" cy="617.68" r="5.0" fill="#DDA0DD"/>
<circle cx="414.40" cy="385.80" r="5.0" fill="#778899"/>
<circle cx="414.40" cy="399.44" r="5.0" fill="#87CEEB"/>
<circle cx="414.40" cy="413.08" r="5.0" fill="#778899"/>
<circle cx="414.40" cy="426.72" r="5.0" fill="#87CEEB"/>
<circle cx="414.40" cy="440.36" r="5.0" fill="#DDA0DD"/>
<circle cx="414.40" cy="454.00" r="5.0" fill="#008080"/>
<circle cx="414.40" cy="467.64" r="5.0" fill="#9ACD32"/>
<circle cx="414.40" cy="481.28" r="5.0" fill="#9ACD32"/>
<circle cx="414.40" cy="494.92" r="5.0" fill="#FA8072"/>
<circle cx="414.40" cy="508.56" r="5.0" fill="#87CEEB"/>
<circle cx="414.40" cy="522.20" r="5.0" fill="#FFD700"/>
<circle cx="414.40" cy="535.84" r="5.0" fill="#87CEEB"/>
<circle cx="414.40" cy="549.48" r="5.0" fill="#FA8072"/>
<circle cx="414.40" cy="563.12" r="5.0" fill="#87CEEB"/>
<circle cx="414.40" cy="576.76" r="5.0" fill="#DDA0DD"/>
<circle cx="414.40" cy="590.40" r="5.0" fill="#FFD700"/>
<circle cx="414.40" cy="604.04" r="5.0" fill="#008080"/>
<circle cx="414.40" cy="617.68" r="5.0" fill="#87CEEB"/>
<circle cx="488.80" cy="385.80" r="5.0" fill="#778899"/>
<circle cx="488.80" cy="399.44" r="5.0" fill="#87CEEB"/>
<circle cx="488.80" cy="413.08" r="5.0" fill="#778899"/>
<circle cx="488.80" cy="426.72" r="5.0" fill="#FA8072"/>
<circle cx="488.80" cy="440.36" r="5.0" fill="#87CEEB"/>
<circle cx="488.80" cy="454.00" r="5.0" fill="#008080"/>
<circle cx="488.80" cy="467.64" r="5.0" fill="#FA8072"/>
<circle cx="488.80" cy="481.28" r="5.0" fill="#FFD700"/>
<circle cx="488.80" cy="494.92" r="5.0" fill="#9ACD32"/>
<circle cx="488.80" cy="508.56" r="5.0" fill="#87CEEB"/>
<circle cx="488.80" cy="522.20" r="5.0" fill="#DDA0DD"/>
<circle cx="488.80" cy="535.84" r="5.0" fill="#87CEEB"/>
<circle cx="488.80" cy="549.48" r="5.0" fill="#87CEEB"/>
<circle cx="488.80" cy="563.12" r="5.0" fill="#FFD700"/>
<circle cx="488.80" cy="576.76" r="5.0" fill="#DDA0DD"/>
<circle cx="488.80" cy="590.40" r="5.0" fill="#9ACD32"/>
<circle cx="488.80" cy="604.04" r="5.0" fill="#FFD700"/>
<circle cx="488.80" cy="617.68" r="5.0" fill="#87CEEB"/>
<text x="42.90" y="388.95" font-size="8.45">employe</text>
<text x="42.90" y="402.59" font-size="8.45">work</text>
<text x="42.90" y="416.23" font-size="8.45">staff</text>
<text x="42.90" y="429.87" font-size="8.45">employ</text>
<text x="42.90" y="443.51" font-size="8.45">train</text>
<text x="42.90" y="457.15" font-size="8.45">recruit</text>
<text x="42.90" y="470.79" font-size="8.45">busi</text>
<text x="42.90" y="484.43" font-size="8.45">opportun</text>
<text x="42.90" y="498.07" font-size="8.45">workforc</text>
<text x="42.90" y="511.71" font-size="8.45">peopl</text>
<text x="42.90" y="525.35" font-size="8.45">posit</text>
<text x="42.90" y="538.99" font-size="8.45">salari</text>
<text x="42.90" y="552.63" font-size="8.45">hire</text>
<text x="42.90" y="566.27" font-size="8.45">loan</text>
<text x="42.90" y="579.91" font-size="8.45">market</text>
<text x="42.90" y="593.55" font-size="8.45">servic</text>
<text x="42.90" y="607.19" font-size="8.45">individu</text>
<text x="42.90" y="620.83" font-size="8.45">profession</text>
<text x="117.30" y="388.95" font-size="8.45">employe</text>
<text x="117.30" y="402.59" font-size="8.45">work</text>
<text x="117.30" y="416.23" font-size="8.45">employ</text>
<text x="117.30" y="429.87" font-size="8.45">staff</text>
<text x="117.30" y="443.51" font-size="8.45">train</text>
<text x="117.30" y="457.15" font-size="8.45">posit</text>
<text x="117.30" y="470.79" font-size="8.45">busi</text>
<text x="117.30" y="484.43" font-size="8.45">market</text>
<text x="117.30" y="498.07" font-size="8.45">servic</text>
<text x="117.30" y="511.71" font-size="8.45">workforc</text>
<text x="117.30" y="525.35" font-size="8.45">peopl</text>
<text x="117.30" y="538.99" font-size="8.45">hire</text>
<text x="117.30" y="552.63" font-size="8.45">opportun</text>
<text x="117.30" y="566.27" font-size="8.45">recruit</text>
<text x="117.30" y="579.91" font-size="8.45">career</text>
<text x="117.30" y="593.55" font-size="8.45">loan</text>
<text x="117.30" y="607.19" font-size="8.45">profession</text>
<text x="117.30" y="620.83" font-size="8.45">credit</text>
<text x="191.70" y="388.95" font-size="8.45">employe</text>
<text x="191.70" y="402.59" font-size="8.45">employ</text>
<text x="191.70" y="416.23" font-size="8.45">work</text>
<text x="191.70" y="429.87" font-size="8.45">posit</text>
<text x="191.70" y="443.51" font-size="8.45">busi</text>
<text x="191.70" y="457.15" font-size="8.45">servic</text>
<text x="191.70" y="470.79" font-size="8.45">train</text>
<text x="191.70" y="484.43" font-size="8.45">staff</text>
<text x="191.70" y="498.07" font-size="8.45">hire</text>
<text x="191.70" y="511.71" font-size="8.45">peopl</text>
<text x="191.70" y="525.35" font-size="8.45">recruit</text>
<text x="191.70" y="538.99" font-size="8.45">loan</text>
<text x="191.70" y="552.63" font-size="8.45">personnel</text>
<text x="191.70" y="566.27" font-size="8.45">growth</text>
<text x="191.70" y="579.91" font-size="8.45">contract</text>
<text x="191.70" y="593.55" font-size="8.45">skill</text>
<text x="191.70" y="607.19" font-size="8.45">market</text>
<text x="191.70" y="620.83" font-size="8.45">profession</text>
<text x="266.10" y="388.95" font-size="8.45">employe</text>
<text x="266.10" y="402.59" font-size="8.45">work</text>
<text x="266.10" y="416.23" font-size="8.45">employ</text>
<text x="266.10" y="429.87" font-size="8.45">busi</text>
<text x="266.10" y="443.51" font-size="8.45">staff</text>
<text x="266.10" y="457.15" font-size="8.45">posit</text>
<text x="266.10" y="470.79" font-size="8.45">opportun</text>
<text x="266.10" y="484.43" font-size="8.45">peopl</text>
<text x="266.10" y="498.07" font-size="8.45">skill</text>
<text x="266.10" y="511.71" font-size="8.45">train</text>
<text x="266.10" y="525.35" font-size="8.45">profession</text>
<text x="266.10" y="538.99" font-size="8.45">loan</text>
<text x="266.10" y="552.63" font-size="8.45">workforc</text>
<text x="266.10" y="566.27" font-size="8.45">hire</text>
<text x="266.10" y="579.91" font-size="8.45">career</text>
<text x="266.10" y="593.55" font-size="8.45">servic</text>
<text x="266.10" y="607.19" font-size="8.45">market</text>
<text x="266.10" y="620.83" font-size="8.45">personnel</text>
<text x="340.50" y="388.95" font-size="8.45">employe</text>
<text x="340.50" y="402.59" font-size="8.45">employ</text>
<text x="340.50" y="416.23" font-size="8.45">work</text>
<text x="340.50" y="429.87" font-size="8.45">peopl</text>
<text x="340.50" y="443.51" font-size="8.45">staff</text>
<text x="340.50" y="457.15" font-size="8.45">posit</text>
<text x="340.50" y="470.79" font-size="8.45">busi</text>
<text x="340.50" y="484.43" font-size="8.45">train</text>
<text x="340.50" y="498.07" font-size="8.45">workforc</text>
<text x="340.50" y="511.71" font-size="8.45">servic</text>
<text x="340.50" y="525.35" font-size="8.45">hire</text>
<text x="340.50" y="538.99" font-size="8.45">contract</text>
<text x="340.50" y="552.63" font-size="8.45">growth</text>
<text x="340.50" y="566.27" font-size="8.45">opportun</text>
<text x="340.50" y="579.91" font-size="8.45">loan</text>
<text x="340.50" y="593.55" font-size="8.45">worker</text>
<text x="340.50" y="607.19" font-size="8.45">market</text>
<text x="340.50" y="620.83" font-size="8.45">skill</text>
<text x="414.90" y="388.95" font-size="8.45">employe</text>
<text x="414.90" y="402.59" font-size="8.45">work</text>
<text x="414.90" y="416.23" font-size="8.45">employ</text>
<text x="414.90" y="429.87" font-size="8.45">peopl</text>
<text x="414.90" y="443.51" font-size="8.45">train</text>
<text x="414.90" y="457.15" font-size="8.45">hire</text>
<text x="414.90" y="470.79" font-size="8.45">busi</text>
<text x="414.90" y="484.43" font-size="8.45">servic</text>
<text x="414.90" y="498.07" font-size="8.45">nemploye</text>
<text x="414.90" y="511.71" font-size="8.45">staff</text>
<text x="414.90" y="525.35" font-size="8.45">market</text>
<text x="414.90" y="538.99" font-size="8.45">posit</text>
<text x="414.90" y="552.63" font-size="8.45">nemploy</text>
<text x="414.90" y="566.27" font-size="8.45">workforc</text>
<text x="414.90" y="579.91" font-size="8.45">profession</text>
<text x="414.90" y="593.55" font-size="8.45">opportun</text>
<text x="414.90" y="607.19" font-size="8.45">contract</text>
<text x="414.90" y="620.83" font-size="8.45">career</text>
<text x="489.30" y="388.95" font-size="8.45">employe</text>
<text x="489.30" y="402.59" font-size="8.45">work</text>
<text x="489.30" y="416.23" font-size="8.45">employ</text>
<text x="489.30" y="429.87" font-size="8.45">nemploye</text>
<text x="489.30" y="443.51" font-size="8.45">peopl</text>
<text x="489.30" y="457.15" font-size="8.45">contract</text>
<text x="489.30" y="470.79" font-size="8.45">nemploy</text>
<text x="489.30" y="484.43" font-size="8.45">opportun</text>
<text x="489.30" y="498.07" font-size="8.45">busi</text>
<text x="489.30" y="511.71" font-size="8.45">staff</text>
<text x="489.30" y="525.35" font-size="8.45">train</text>
<text x="489.30" y="538.99" font-size="8.45">posit</text>
<text x="489.30" y="552.63" font-size="8.45">career</text>
<text x="489.30" y="566.27" font-size="8.45">trade_union</text>
<text x="489.30" y="579.91" font-size="8.45">profession</text>
<text x="489.30" y="593.55" font-size="8.45">servic</text>
<text x="489.30" y="607.19" font-size="8.45">attract</text>
<text x="489.30" y="620.83" font-size="8.45">role</text>
<text x="50.90" y="639.80" text-anchor="middle" font-size="8.45">2010</text>
<text x="125.28" y="639.80" text-anchor="middle" font-size="8.45">2012</text>
<text x="199.66" y="639.80" text-anchor="middle" font-size="8.45">2014</text>
<text x="274.04" y="639.80" text-anchor="middle" font-size="8.45">2016</text>
<text x="348.42" y="639.80" text-anchor="middle" font-size="8.45">2018</text>
<text x="422.80" y="639.80" text-anchor="middle" font-size="8.45">2020</text>
<text x="497.18" y="639.80" text-anchor="middle" font-size="8.45">2022</text>
<text x="284.5" y="648.50" text-anchor="middle" font-size="8.45">Year</text>
<text x="20.1" y="384.30" text-anchor="end" font-size="8.2">High</text>
<text x="19.8" y="623.30" text-anchor="end" font-size="8.2">Low</text>
<text transform="translate(19.9 501.60) rotate(-90)" x="0" y="0" text-anchor="middle" font-size="8.45">Ranking by Word Count</text>
<rect x="94.5" y="652.00" width="379.40" height="26.90" rx="2" fill="#fff" stroke="#e4e4e4" stroke-width="1"/>
<rect x="97.6" y="656.30" width="17" height="6.1" fill="#DDA0DD"/>
<text x="121.80" y="662.45" font-size="8.45">Skill and Training</text>
<rect x="97.6" y="668.20" width="17" height="6.1" fill="#778899"/>
<text x="121.80" y="674.35" font-size="8.45">Employment</text>
<rect x="198.4" y="656.30" width="17" height="6.1" fill="#FA8072"/>
<text x="222.70" y="662.45" font-size="8.45">Unemployment</text>
<rect x="198.4" y="668.20" width="17" height="6.1" fill="#008080"/>
<text x="222.70" y="674.35" font-size="8.45">Recruitment</text>
<rect x="291.3" y="656.30" width="17" height="6.1" fill="#87CEEB"/>
<text x="315.50" y="662.45" font-size="8.45">Workforce</text>
<rect x="291.3" y="668.20" width="17" height="6.1" fill="#FFD700"/>
<text x="315.50" y="674.35" font-size="8.45">Economy</text>
<rect x="367.2" y="656.30" width="17" height="6.1" fill="#9ACD32"/>
<text x="391.20" y="662.45" font-size="8.45">Business and Operation</text>
</svg>
</body></html>
